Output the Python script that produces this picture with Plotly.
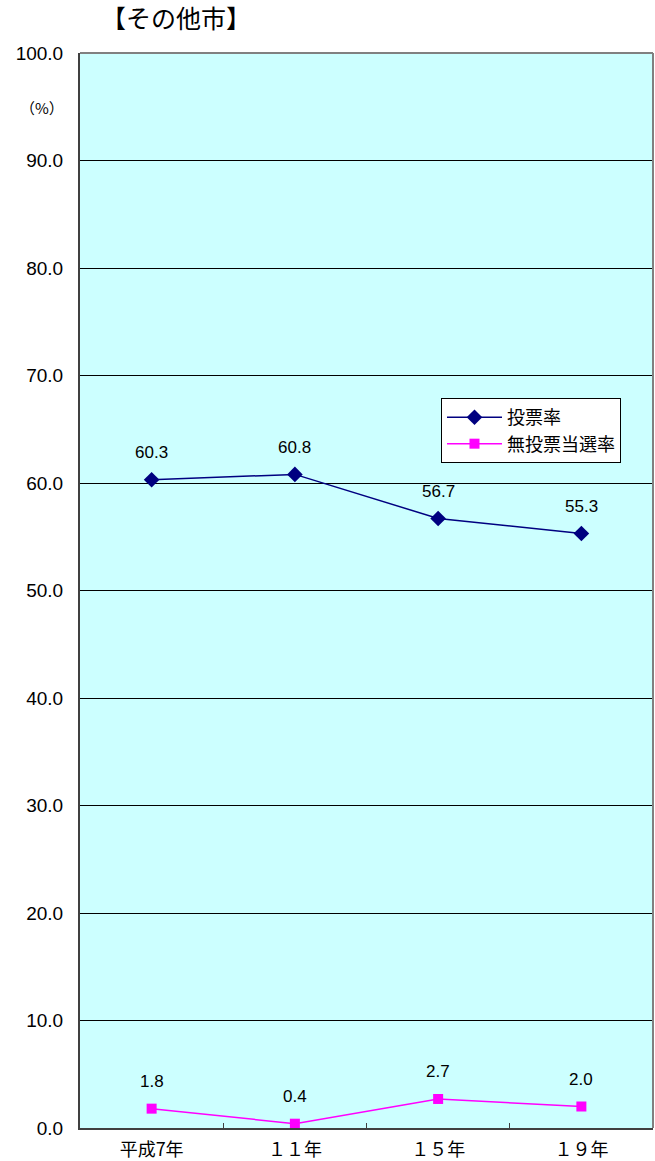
import plotly.graph_objects as go

# Election year categories and rates (%)
categories = ["平成7年", "１１年", "１５年", "１９年"]
turnout = [60.3, 60.8, 56.7, 55.3]
uncontested = [1.8, 0.4, 2.7, 2.0]
y_ticks = [0, 10, 20, 30, 40, 50, 60, 70, 80, 90, 100]

FONT = "Liberation Sans, Noto Sans CJK JP, sans-serif"
JP = "Noto Sans CJK JP, sans-serif"

fig = go.Figure()
fig.add_trace(go.Scatter(
    x=categories, y=turnout, name="投票率",
    mode="lines+markers",
    line=dict(color="#000080", width=1.5),
    marker=dict(symbol="diamond", size=12, color="#000080"),
))
fig.add_trace(go.Scatter(
    x=categories, y=uncontested, name="無投票当選率",
    mode="lines+markers",
    line=dict(color="#FF00FF", width=1.5),
    marker=dict(symbol="square", size=10, color="#FF00FF"),
))

# Value labels above each point
labels = []
for series in (turnout, uncontested):
    for cat, v in zip(categories, series):
        labels.append(dict(
            x=cat, y=v, text=f"{v:.1f}", showarrow=False,
            xanchor="center", yanchor="middle", yshift=27,
            font=dict(size=17, family=FONT, color="black"),
        ))

fig.update_layout(
    width=655, height=1161,
    margin=dict(l=80, r=2, t=53, b=33, autoexpand=False),
    paper_bgcolor="white",
    plot_bgcolor="#CCFFFF",
    font=dict(family=FONT, size=17, color="black"),
    showlegend=True,
    legend=dict(
        x=0.63, y=0.679, xanchor="left", yanchor="top",
        bgcolor="white", bordercolor="black", borderwidth=1,
        font=dict(size=18, family=JP),
        tracegroupgap=0, itemwidth=55,
    ),
    xaxis=dict(
        type="category", tickson="boundaries", ticks="inside", ticklen=5,
        tickcolor="#404040", showgrid=False, automargin=False,
        showline=True, linecolor="#404040", linewidth=2,
        tickfont=dict(size=18, family=JP),
        ticklabelstandoff=4,
        range=[-0.5, 3.5],
    ),
    yaxis=dict(
        range=[0, 100], tickvals=y_ticks, tickformat=".1f",
        showgrid=True, gridcolor="black", gridwidth=1, automargin=False,
        showline=True, linecolor="#404040", linewidth=2,
        ticks="", ticklabelstandoff=11,
        tickfont=dict(size=19, family=FONT),
        zeroline=False,
    ),
    shapes=[
        dict(type="line", xref="paper", yref="paper", x0=0, x1=1, y0=1, y1=1,
             line=dict(color="#808080", width=2)),
        dict(type="line", xref="paper", yref="paper", x0=1, x1=1, y0=0, y1=1,
             line=dict(color="#808080", width=2)),
    ],
    annotations=labels + [
        dict(text="【その他市】", xref="paper", yref="paper", x=0.033, y=1.015,
             xanchor="left", yanchor="bottom", showarrow=False,
             font=dict(size=25, family=JP)),
        dict(text="（%）", xref="paper", yref="paper", x=-0.066, y=0.949,
             xanchor="center", yanchor="middle", showarrow=False,
             font=dict(size=15, family=JP)),
    ],
)

fig.write_html("out.html")
